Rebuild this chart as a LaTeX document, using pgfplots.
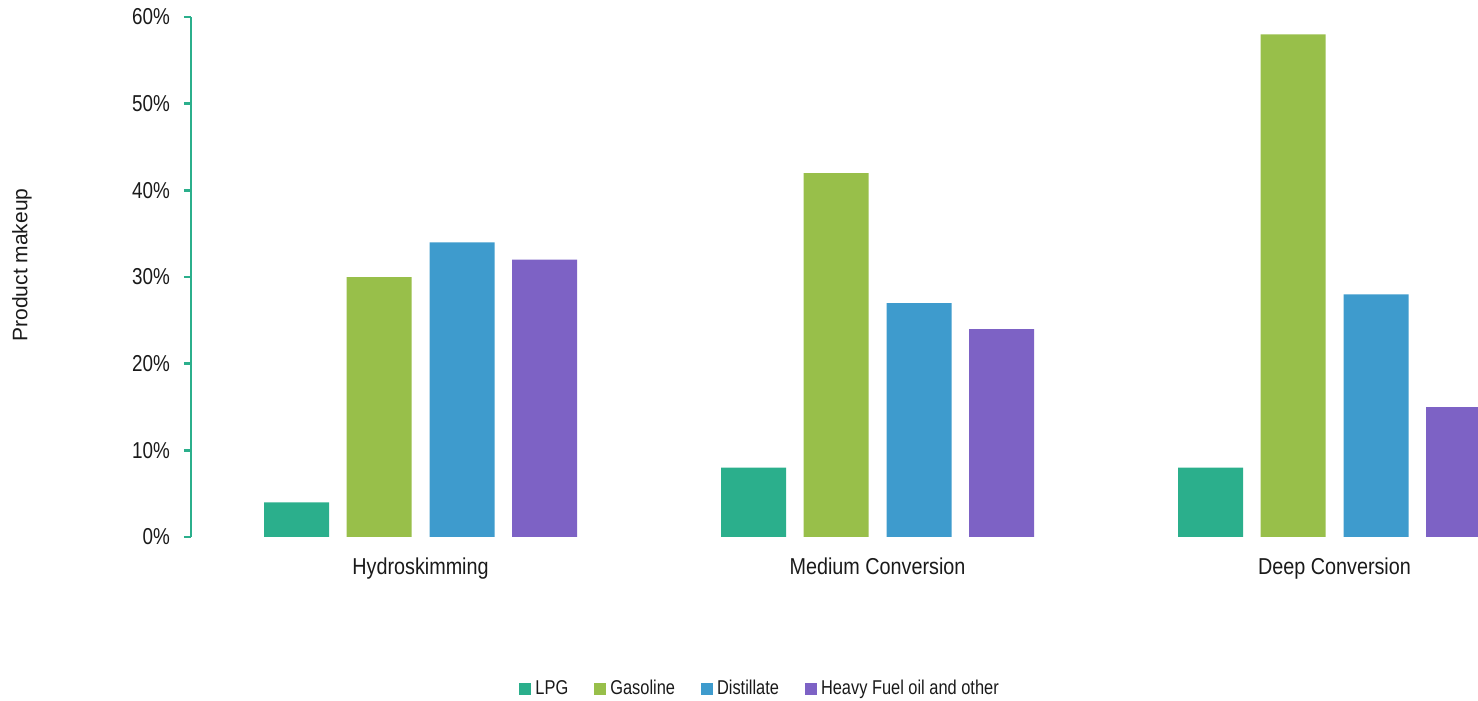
\documentclass[border=0pt]{standalone}
\usepackage{fontspec}
\setmainfont{Liberation Sans}
\newfontfamily\narrowfont{Liberation Sans}[FakeStretch=0.82]
\newfontfamily\catfont{Liberation Sans}[FakeStretch=0.86]
\usepackage{pgfplots}
\pgfplotsset{compat=1.18}

\definecolor{lpg}{HTML}{2BAF8C}
\definecolor{gasoline}{HTML}{98BF4A}
\definecolor{distillate}{HTML}{3E9BCD}
\definecolor{heavy}{HTML}{7D62C5}
\definecolor{labeltext}{HTML}{1A1A1A}

\pgfplotsset{
  sqlegend/.style={legend image code/.code={\fill[##1] (0pt,-3pt) rectangle (6pt,3.2pt);}}
}

\begin{document}
\begin{tikzpicture}
\path[use as bounding box] (-95.5pt,-82pt) rectangle (643.5pt,268.5pt);
\begin{axis}[
  at={(0,0)}, anchor=south west,
  scale only axis,
  width=643.5pt, height=260pt,
  ybar,
  bar width=32.5pt,
  xmin=-0.5022, xmax=2.3140,
  ymin=0, ymax=60,
  ytick={0,10,20,30,40,50,60},
  yticklabel={\pgfmathprintnumber{\tick}\%},
  /pgf/number format/assume math mode=true,
  xtick={0,1,2},
  xticklabels={Hydroskimming, Medium Conversion, Deep Conversion},
  axis x line*=bottom,
  axis y line*=left,
  x axis line style={draw=none},
  y axis line style={draw=lpg, line width=1.2pt, -},
  xtick style={draw=none},
  ytick style={draw=lpg, line width=1.2pt},
  tick align=outside,
  major tick length=3.5pt,
  yticklabel style={font=\narrowfont\fontsize{11.5}{13}\selectfont, text=labeltext, xshift=-3.5pt},
  xticklabel style={font=\catfont\fontsize{11.5}{13}\selectfont, text=labeltext, yshift=-3.5pt},
  ylabel={Product makeup},
  ylabel style={at={(rel axis cs:-0.1313,0.523)}, anchor=center,
    font=\fontsize{10.5}{12}\selectfont, text=labeltext},
  legend columns=-1,
  legend style={
    at={(rel axis cs:0.443,-0.2923)}, anchor=center,
    draw=none, fill=none,
    font=\narrowfont\fontsize{10}{12}\selectfont, text=labeltext,
    /tikz/every even column/.append style={column sep=11pt},
  },
  clip=true,
]
\addplot[fill=lpg, draw=none, bar shift=-62pt, sqlegend]
  coordinates {(0,4) (1,8) (2,8)};
\addplot[fill=gasoline, draw=none, bar shift=-20.75pt, sqlegend]
  coordinates {(0,30) (1,42) (2,58)};
\addplot[fill=distillate, draw=none, bar shift=20.75pt, sqlegend]
  coordinates {(0,34) (1,27) (2,28)};
\addplot[fill=heavy, draw=none, bar shift=62pt, sqlegend]
  coordinates {(0,32) (1,24) (2,15)};
\legend{LPG, Gasoline, Distillate, Heavy Fuel oil and other}
\end{axis}
\end{tikzpicture}
\end{document}
